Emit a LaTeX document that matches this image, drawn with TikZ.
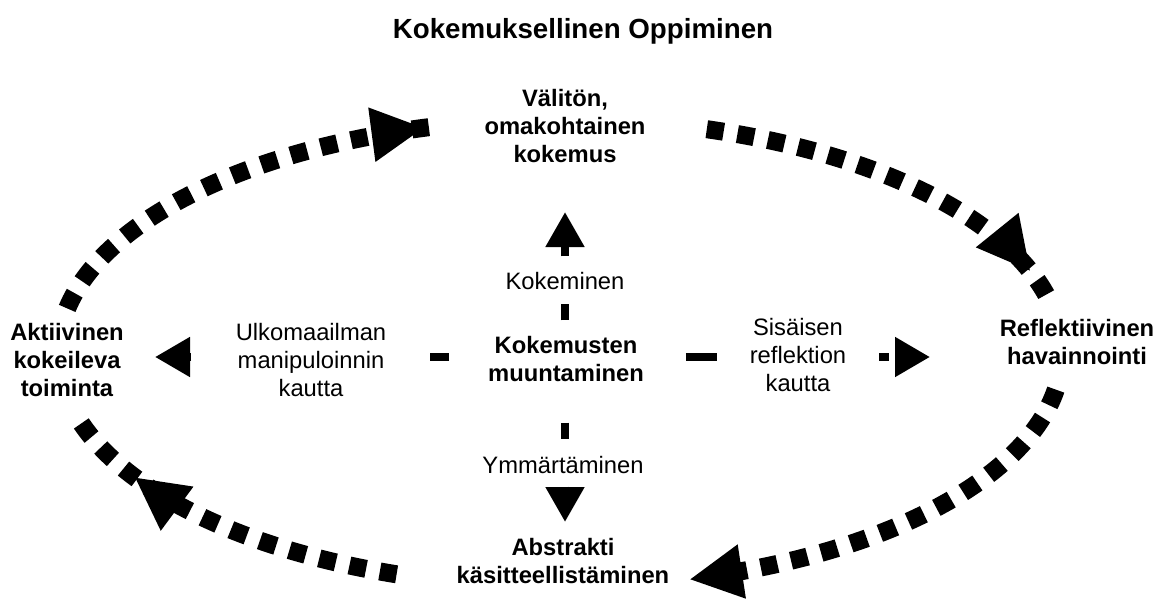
\documentclass[tikz,border=0pt]{standalone}
\usepackage{fontspec}
\setmainfont{Liberation Sans}
\usetikzlibrary{arrows.meta,decorations.markings}

\begin{document}
\begin{tikzpicture}[x=1pt,y=-1pt,
  every node/.style={inner sep=0pt,outer sep=0pt},
  heading/.style={font=\fontsize{27.7}{32}\selectfont\bfseries},
  stage/.style={font=\fontsize{23.75}{28}\selectfont\bfseries,align=center},
  mode/.style={font=\fontsize{23.75}{28}\selectfont,align=center,fill=white,inner sep=3pt},
  cycleline/.style={line width=18pt,dash pattern=on 17pt off 14pt},
  % filled triangular head placed along a curved path; #2 moves the tip forward
  tipat/.style 2 args={postaction={decorate,decoration={markings,
      mark=at position #1 with {\fill (#2-52pt,-27.5pt) -- (#2,0pt) -- (#2-52pt,27.5pt) -- cycle;}}}},
  flowv/.style={line width=8pt,dash pattern=on 16pt off 16pt,-{Triangle[length=35pt,width=37pt]}},
  flowh/.style={line width=8pt,dash pattern=on 31pt off 12pt,-{Triangle[length=35pt,width=38pt]}}
]
\useasboundingbox (0,0) rectangle (1167,604);

% title
\node[heading,anchor=base] (title) at (583,39) {Kokemuksellinen Oppiminen};

% the four stages of the cycle
\node[stage] (exp) at (565,126) {Välitön,\\omakohtainen\\kokemus};
\node[stage] (refl) at (1077,342) {Reflektiivinen\\havainnointi};
\node[stage] (abs) at (563,561) {Abstrakti\\käsitteellistäminen};
\node[stage] (act) at (67,360) {Aktiivinen\\kokeileva\\toiminta};

% centre
\node[stage] (cn) at (566,359) {Kokemusten\\muuntaminen};

% end points of the cycle arcs (ellipse centre (560,353), radii 502 x 234)
\coordinate (a1) at (67.2,308.4);
\coordinate (a2) at (706.8,129.2);
\coordinate (a3) at (1055.8,389.6);
\coordinate (a4) at (396.6,574.3);

% cycle arcs
\draw[cycleline,tipat={-11pt}{0pt}] (a1) arc[start angle=191,end angle=255.5,x radius=502,y radius=234];
\draw[cycleline,tipat={-40pt}{0pt}] (a2) arc[start angle=287,end angle=348,x radius=502,y radius=234];
\draw[cycleline,tipat={-0.01pt}{25pt}] (a3) arc[start angle=9,end angle=72,x radius=502,y radius=234];
\draw[cycleline,tipat={-77pt}{0pt}] (a4) arc[start angle=109,end angle=162.5,x radius=502,y radius=234];

% arrow tips of the four directions
\coordinate (upTip) at (565,212);
\coordinate (downTip) at (565,522);
\coordinate (leftTip) at (155,357);
\coordinate (rightTip) at (930,357);

\draw[flowv] ([xshift=-1pt,yshift=16pt]cn.north) -- (upTip);
\draw[flowv] ([xshift=-1pt,yshift=-41pt]cn.south) -- (downTip);
\draw[flowh] ([xshift=-39pt,yshift=2pt]cn.west) -- (leftTip);
\draw[flowh] ([xshift=42pt,yshift=2pt]cn.east) -- (rightTip);

% labels of the four directions
\node[mode] (lup) at (565,281) {Kokeminen};
\node[mode] (ldown) at (563,465) {Ymmärtäminen};
\node[mode,minimum width=238pt] (lleft) at (311,360) {Ulkomaailman\\manipuloinnin\\kautta};
\node[mode,minimum width=162pt] (lright) at (798,355) {Sisäisen\\reflektion\\kautta};
\end{tikzpicture}
\end{document}
